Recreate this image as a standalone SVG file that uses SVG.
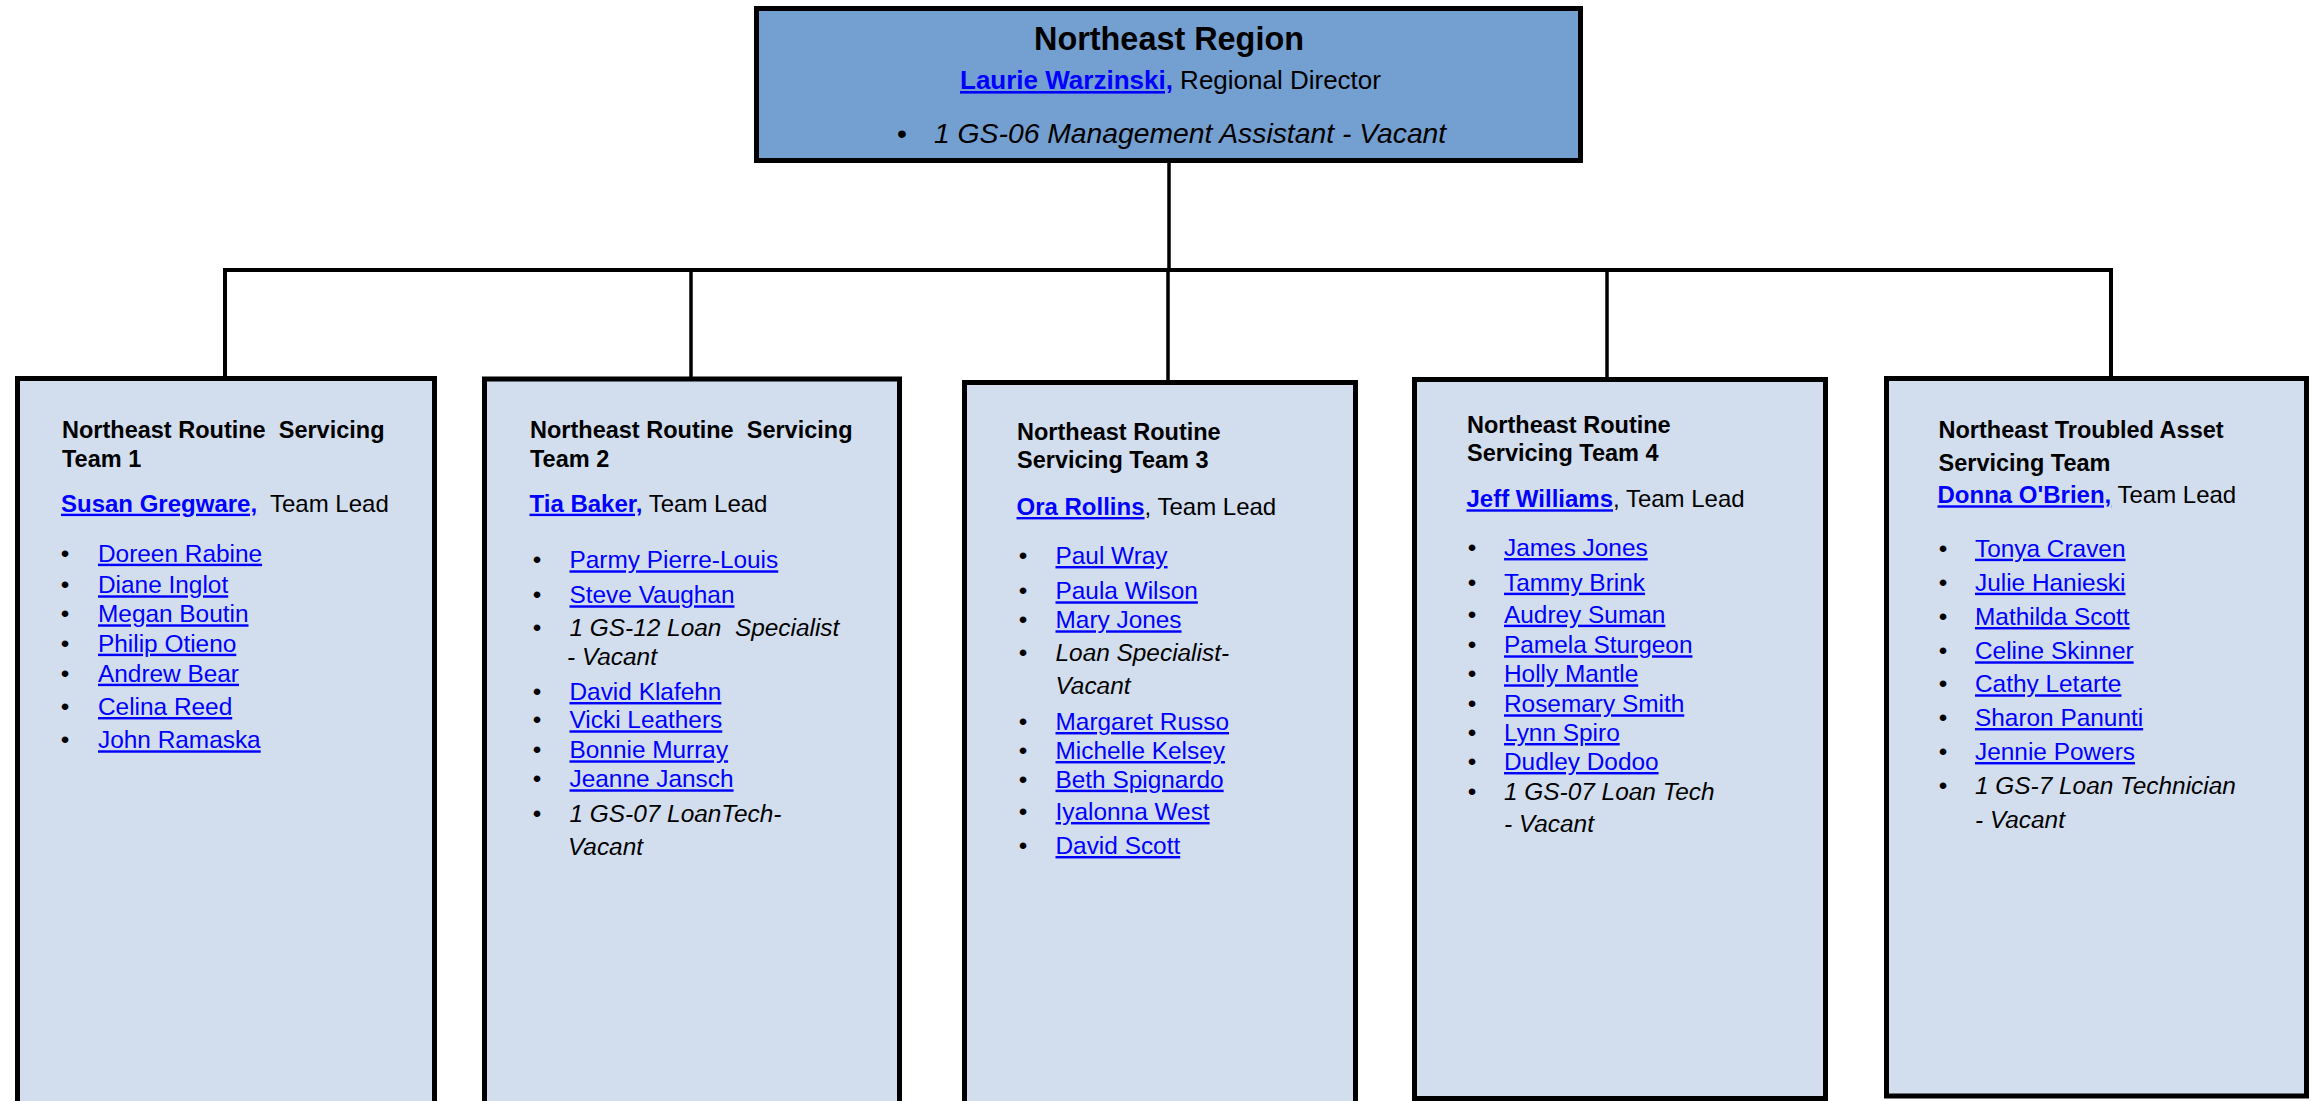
<svg xmlns="http://www.w3.org/2000/svg" width="2318" height="1101" viewBox="0 0 2318 1101">
<style>
text { font-family: "Liberation Sans", Arial, sans-serif; fill: #000; }
.box { fill: #D2DEEE; stroke: #000; stroke-width: 5; }
.top { fill: #749FD1; stroke: #000; stroke-width: 5; }
.conn { fill: none; stroke: #000; stroke-width: 3.5; }
.ttl { font-weight: bold; font-size: 23.5px; white-space: pre; }
.lead { font-size: 24px; white-space: pre; }
.lk { fill: #0000FF; text-decoration: underline; }
.b { font-weight: bold; }
.li { font-size: 24.4px; white-space: pre; }
.it { font-style: italic; }
.bu { text-anchor: middle; }
</style>
<rect width="2318" height="1101" fill="#FFFFFF"/>
<g id="connectors">
  <path class="conn" d="M1169 163 V270"/>
  <path class="conn" style="stroke-width:4" d="M225 377 V270 H2111 V377"/>
  <path class="conn" d="M691 270 V377"/>
  <path class="conn" d="M1168 270 V380"/>
  <path class="conn" d="M1607 270 V377"/>
</g>
<g id="northeast-region">
  <rect class="top" x="756.5" y="8.5" width="824" height="152"/>
  <text x="1169" y="50" text-anchor="middle" style="font-weight:bold;font-size:32.4px">Northeast Region</text>
  <text x="960" y="89" style="font-size:26px"><tspan class="lk b">Laurie Warzinski,</tspan> Regional Director</text>
  <text x="902" y="143" class="bu" style="font-size:28.3px">•</text>
  <text x="934" y="143" class="it" style="font-size:28.3px">1 GS-06 Management Assistant - Vacant</text>
</g>
<g id="team-1">
  <rect class="box" x="17.5" y="378.5" width="417" height="740"/>
  <text x="62" y="438.3" class="ttl">Northeast Routine  Servicing</text>
  <text x="62" y="466.7" class="ttl">Team 1</text>
  <text x="61" y="511.7" class="lead"><tspan class="lk b">Susan Gregware,</tspan>  Team Lead</text>
  <g class="li">
    <text class="li bu" x="65" y="561.7">•</text><text class="li lk" x="98" y="561.7">Doreen Rabine</text>
    <text class="li bu" x="65" y="593.3">•</text><text class="li lk" x="98" y="593.3">Diane Inglot</text>
    <text class="li bu" x="65" y="622.3">•</text><text class="li lk" x="98" y="622.3">Megan Boutin</text>
    <text class="li bu" x="65" y="651.7">•</text><text class="li lk" x="98" y="651.7">Philip Otieno</text>
    <text class="li bu" x="65" y="681.7">•</text><text class="li lk" x="98" y="681.7">Andrew Bear</text>
    <text class="li bu" x="65" y="715">•</text><text class="li lk" x="98" y="715">Celina Reed</text>
    <text class="li bu" x="65" y="748.3">•</text><text class="li lk" x="98" y="748.3">John Ramaska</text>
  </g>
</g>
<g id="team-2">
  <rect class="box" x="484.5" y="379" width="415" height="740"/>
  <text x="530" y="438.3" class="ttl">Northeast Routine  Servicing</text>
  <text x="530" y="466.7" class="ttl">Team 2</text>
  <text x="529.5" y="511.7" class="lead"><tspan class="lk b">Tia Baker,</tspan> Team Lead</text>
  <text class="li bu" x="537" y="568.3">•</text><text class="li lk" x="569.5" y="568.3">Parmy Pierre-Louis</text>
  <text class="li bu" x="537" y="603.3">•</text><text class="li lk" x="569.5" y="603.3">Steve Vaughan</text>
  <text class="li bu" x="537" y="636">•</text><text class="li it" x="569.5" y="636">1 GS-12 Loan  Specialist</text>
  <text class="li it" x="567" y="665">- Vacant</text>
  <text class="li bu" x="537" y="700">•</text><text class="li lk" x="569.5" y="700">David Klafehn</text>
  <text class="li bu" x="537" y="728.3">•</text><text class="li lk" x="569.5" y="728.3">Vicki Leathers</text>
  <text class="li bu" x="537" y="758.3">•</text><text class="li lk" x="569.5" y="758.3">Bonnie Murray</text>
  <text class="li bu" x="537" y="787.3">•</text><text class="li lk" x="569.5" y="787.3">Jeanne Jansch</text>
  <text class="li bu" x="537" y="821.7">•</text><text class="li it" x="569.5" y="821.7">1 GS-07 LoanTech-</text>
  <text class="li it" x="568" y="855">Vacant</text>
</g>
<g id="team-3">
  <rect class="box" x="964.5" y="382.5" width="391" height="740"/>
  <text x="1017" y="440" class="ttl">Northeast Routine</text>
  <text x="1017" y="468.3" class="ttl">Servicing Team 3</text>
  <text x="1016.5" y="515" class="lead"><tspan class="lk b">Ora Rollins</tspan>, Team Lead</text>
  <text class="li bu" x="1023" y="564">•</text><text class="li lk" x="1055.5" y="564">Paul Wray</text>
  <text class="li bu" x="1023" y="599.3">•</text><text class="li lk" x="1055.5" y="599.3">Paula Wilson</text>
  <text class="li bu" x="1023" y="628.3">•</text><text class="li lk" x="1055.5" y="628.3">Mary Jones</text>
  <text class="li bu" x="1023" y="660.7">•</text><text class="li it" x="1055.5" y="660.7">Loan Specialist-</text>
  <text class="li it" x="1055.5" y="694.3">Vacant</text>
  <text class="li bu" x="1023" y="730">•</text><text class="li lk" x="1055.5" y="730">Margaret Russo</text>
  <text class="li bu" x="1023" y="759">•</text><text class="li lk" x="1055.5" y="759">Michelle Kelsey</text>
  <text class="li bu" x="1023" y="787.7">•</text><text class="li lk" x="1055.5" y="787.7">Beth Spignardo</text>
  <text class="li bu" x="1023" y="820">•</text><text class="li lk" x="1055.5" y="820">Iyalonna West</text>
  <text class="li bu" x="1023" y="854">•</text><text class="li lk" x="1055.5" y="854">David Scott</text>
</g>
<g id="team-4">
  <rect class="box" x="1414.5" y="379.5" width="411" height="719"/>
  <text x="1467" y="432.7" class="ttl">Northeast Routine</text>
  <text x="1467" y="461" class="ttl">Servicing Team 4</text>
  <text x="1466.5" y="507.3" class="lead"><tspan class="lk b">Jeff Williams</tspan>, Team Lead</text>
  <text class="li bu" x="1472" y="556">•</text><text class="li lk" x="1504" y="556">James Jones</text>
  <text class="li bu" x="1472" y="590.7">•</text><text class="li lk" x="1504" y="590.7">Tammy Brink</text>
  <text class="li bu" x="1472" y="622.7">•</text><text class="li lk" x="1504" y="622.7">Audrey Suman</text>
  <text class="li bu" x="1472" y="653.3">•</text><text class="li lk" x="1504" y="653.3">Pamela Sturgeon</text>
  <text class="li bu" x="1472" y="682.3">•</text><text class="li lk" x="1504" y="682.3">Holly Mantle</text>
  <text class="li bu" x="1472" y="712.3">•</text><text class="li lk" x="1504" y="712.3">Rosemary Smith</text>
  <text class="li bu" x="1472" y="741">•</text><text class="li lk" x="1504" y="741">Lynn Spiro</text>
  <text class="li bu" x="1472" y="770">•</text><text class="li lk" x="1504" y="770">Dudley Dodoo</text>
  <text class="li bu" x="1472" y="800">•</text><text class="li it" x="1504" y="800">1 GS-07 Loan Tech</text>
  <text class="li it" x="1504" y="831.7">- Vacant</text>
</g>
<g id="team-5">
  <path class="conn" d="M2111 270 V377"/>
  <rect class="box" x="1886.5" y="378.5" width="420" height="717.5"/>
  <text x="1938.5" y="438.3" class="ttl">Northeast Troubled Asset</text>
  <text x="1938.5" y="470.7" class="ttl">Servicing Team</text>
  <text x="1937.5" y="503.3" class="lead"><tspan class="lk b">Donna O'Brien,</tspan> Team Lead</text>
  <text class="li bu" x="1943" y="556.7">•</text><text class="li lk" x="1975" y="556.7">Tonya Craven</text>
  <text class="li bu" x="1943" y="590.7">•</text><text class="li lk" x="1975" y="590.7">Julie Hanieski</text>
  <text class="li bu" x="1943" y="625">•</text><text class="li lk" x="1975" y="625">Mathilda Scott</text>
  <text class="li bu" x="1943" y="659.3">•</text><text class="li lk" x="1975" y="659.3">Celine Skinner</text>
  <text class="li bu" x="1943" y="692.3">•</text><text class="li lk" x="1975" y="692.3">Cathy Letarte</text>
  <text class="li bu" x="1943" y="726">•</text><text class="li lk" x="1975" y="726">Sharon Panunti</text>
  <text class="li bu" x="1943" y="760">•</text><text class="li lk" x="1975" y="760">Jennie Powers</text>
  <text class="li bu" x="1943" y="794">•</text><text class="li it" x="1975" y="794">1 GS-7 Loan Technician</text>
  <text class="li it" x="1975" y="827.7">- Vacant</text>
</g>
</svg>
